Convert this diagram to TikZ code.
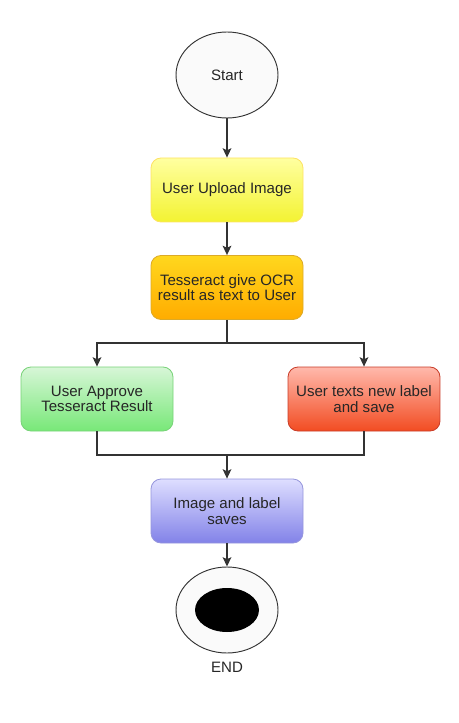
\documentclass[tikz,border=0pt]{standalone}
\usepackage{fontspec}
\setmainfont{Liberation Sans}
\usetikzlibrary{shapes.geometric,arrows.meta}
\definecolor{lineclr}{HTML}{333333}
\definecolor{txtclr}{HTML}{262626}
\tikzset{
  stepbox/.style={draw, rounded corners=7.5pt, minimum width=114pt, minimum height=48pt,
    align=center, text=txtclr, font=\fontsize{11.3}{11.6}\selectfont, line width=0.6pt, shading=axis},
  startnode/.style={ellipse, draw=lineclr, fill=white!98!black, line width=0.7pt,
    minimum width=76.5pt, minimum height=64.5pt, text=txtclr, font=\fontsize{11.3}{12}\selectfont},
  line/.style={draw=lineclr, line width=1.1pt},
  arrow/.style={line, -{Stealth[length=7pt,width=6.5pt,inset=1.5pt]}}
}
\begin{document}
\begin{tikzpicture}[x=0.75pt,y=-0.75pt]
      \useasboundingbox (0,0) rectangle (459,723);
      % start and end
      \node[startnode] (start) at (227,75) {Start};
      \node[startnode] (finish) at (227,610) {};
      \node[ellipse, fill=black, minimum width=48pt, minimum height=33pt] (dot) at (227,610) {};
      \node[text=txtclr, font=\fontsize{11.3}{12}\selectfont] (endlabel) at (227,667) {END};
      % process steps
      \node[stepbox, draw=yellow!70!orange!60, top color={rgb,255:red,255;green,255;blue,160}, bottom color={rgb,255:red,243;green,243;blue,50}] (upload) at (227,190) {User Upload Image};
      \node[stepbox, draw={rgb,255:red,220;green,170;blue,40}, top color={rgb,255:red,255;green,215;blue,30}, bottom color={rgb,255:red,255;green,172;blue,0}] (ocr) at (227,287.5) {Tesseract give OCR\\result as text to User};
      \node[stepbox, draw={rgb,255:red,120;green,210;blue,120}, top color={rgb,255:red,215;green,246;blue,215}, bottom color={rgb,255:red,120;green,232;blue,120}] (approve) at (97,399) {User Approve\\Tesseract Result};
      \node[stepbox, draw={rgb,255:red,200;green,60;blue,40}, top color={rgb,255:red,255;green,185;blue,172}, bottom color={rgb,255:red,242;green,76;blue,34}] (newlabel) at (364,399) {User texts new label\\and save};
      \node[stepbox, draw={rgb,255:red,150;green,150;blue,220}, top color={rgb,255:red,222;green,222;blue,255}, bottom color={rgb,255:red,130;green,130;blue,232}] (saves) at (227,511) {Image and label\\saves};
      % branch points
      \coordinate (split) at (227,343);
      \coordinate (merge) at (227,455);
      % connectors
      \draw[arrow] (start) -- (upload);
      \draw[arrow] (upload) -- (ocr);
      \draw[line] (ocr) -- (split);
      \draw[arrow] (split) -| (approve);
      \draw[arrow] (split) -| (newlabel);
      \draw[line] (approve) |- (merge);
      \draw[line] (newlabel) |- (merge);
      \draw[arrow] (merge) -- (saves);
      \draw[arrow] (saves) -- (finish);
\end{tikzpicture}
\end{document}
